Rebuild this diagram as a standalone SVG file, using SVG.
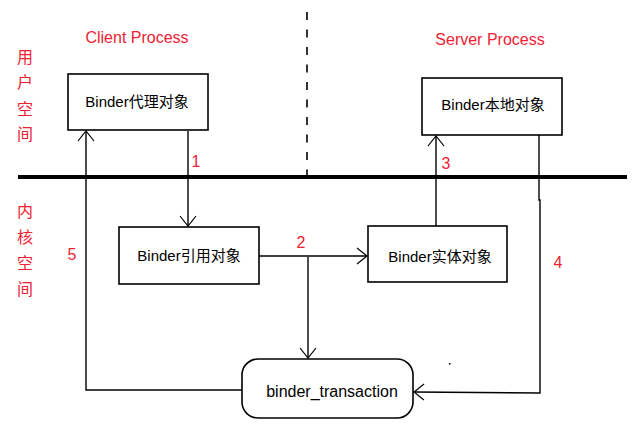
<svg xmlns="http://www.w3.org/2000/svg" width="644" height="433" viewBox="0 0 644 433">
<style>
.box{fill:#fff;stroke:#000;stroke-width:1.6}
.t{font-family:"Liberation Sans","Noto Sans CJK SC",sans-serif;font-size:15px;fill:#000;text-anchor:middle}
.r{font-family:"Liberation Sans","Noto Sans CJK SC",sans-serif;font-size:16px;fill:#ee2233;text-anchor:middle}
.ln{fill:none;stroke:#000;stroke-width:1.4}
</style>
<defs>
<marker id="a" viewBox="-12 -9 14 18" markerWidth="14" markerHeight="18" refX="0" refY="0" orient="auto" markerUnits="userSpaceOnUse">
<path d="M-10,-8 L0,0 L-10,8" fill="none" stroke="#000" stroke-width="1.2"/>
</marker>
</defs>
<rect width="644" height="433" fill="#fff"/>
<g id="divider">
<line x1="18" y1="177" x2="627" y2="177" stroke="#000" stroke-width="4"/>
<line x1="307" y1="12" x2="307" y2="176" stroke="#000" stroke-width="1.6" stroke-dasharray="8,9.5"/>
</g>
<g id="labels">
<text class="r" x="137" y="43">Client Process</text>
<text class="r" x="490" y="45">Server Process</text>
<text class="r" x="25" y="63">用</text>
<text class="r" x="25" y="88">户</text>
<text class="r" x="25" y="115">空</text>
<text class="r" x="25" y="140">间</text>
<text class="r" x="25" y="217">内</text>
<text class="r" x="25" y="243">核</text>
<text class="r" x="25" y="269">空</text>
<text class="r" x="25" y="295">间</text>
</g>
<g id="connectors">
<line class="ln" x1="188" y1="131" x2="188" y2="226" marker-end="url(#a)"/>
<line class="ln" x1="259" y1="256" x2="367" y2="256" marker-end="url(#a)"/>
<line class="ln" x1="308" y1="257" x2="308" y2="358" marker-end="url(#a)"/>
<line class="ln" x1="436" y1="226" x2="436" y2="136" marker-end="url(#a)"/>
<polyline class="ln" points="539,135 539,200 540,200 540,393 414,392" marker-end="url(#a)"/>
<polyline class="ln" points="242,390 86,390 86,131" marker-end="url(#a)"/>
<text class="r" x="196" y="167">1</text>
<text class="r" x="301" y="248">2</text>
<text class="r" x="446" y="169">3</text>
<text class="r" x="558" y="268">4</text>
<text class="r" x="72" y="260">5</text>
<rect x="449" y="363" width="1.5" height="1.5" fill="#000"/>
</g>
<g id="proxy">
<rect class="box" x="68" y="74" width="140" height="56"/>
<text class="t" x="137" y="107">Binder代理对象</text>
</g>
<g id="local">
<rect class="box" x="422" y="78" width="140" height="57"/>
<text class="t" x="493" y="110">Binder本地对象</text>
</g>
<g id="ref">
<rect class="box" x="119" y="227" width="140" height="57"/>
<text class="t" x="189" y="261">Binder引用对象</text>
</g>
<g id="entity">
<rect class="box" x="368" y="226" width="139" height="56"/>
<text class="t" x="440" y="262">Binder实体对象</text>
</g>
<g id="transaction">
<rect class="box" x="242" y="359" width="171" height="59" rx="16" ry="16"/>
<text class="t" x="332" y="397" style="font-size:16px">binder_transaction</text>
</g>
</svg>
